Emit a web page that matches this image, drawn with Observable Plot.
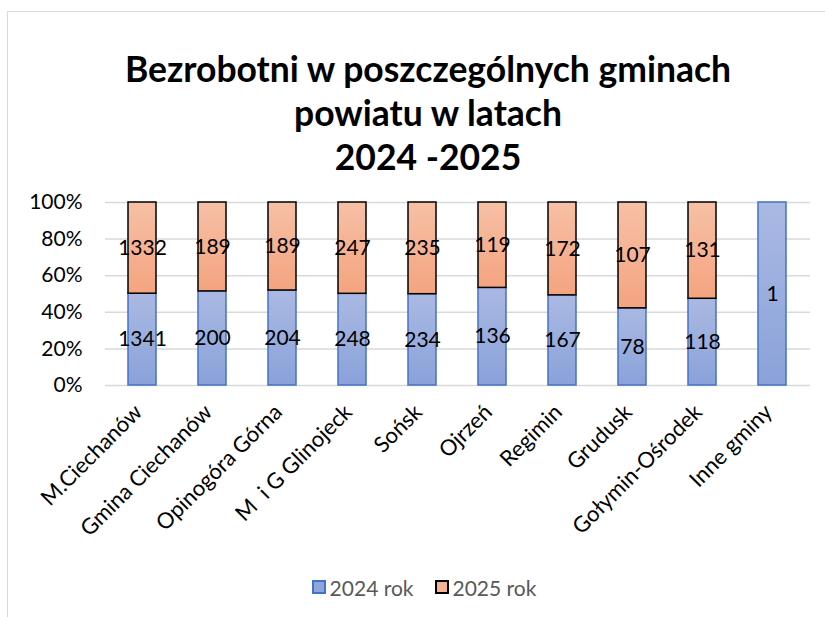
<!DOCTYPE html>
<html>
<head>
<meta charset="utf-8">
<script src="https://cdn.jsdelivr.net/npm/d3@7"></script>
<script src="https://cdn.jsdelivr.net/npm/@observablehq/plot@0.6"></script>
<style>
  html, body { margin: 0; padding: 0; background: #fff; }
  body { width: 825px; height: 617px; position: relative; overflow: hidden; font-family: Lato, "Open Sans", sans-serif; }
  #frame { position: absolute; left: 7px; top: 11px; width: 900px; height: 700px; border: 1px solid #d9d9d9; box-sizing: border-box; }
  #title { position: absolute; left: 0; top: 47px; width: 856px; text-align: center; font-weight: bold; font-size: 35.5px; line-height: 44px; color: #000; }
  #chart { position: absolute; left: 0; top: 185px; }
  #legend { position: absolute; left: 0; top: 573px; width: 848px; text-align: center; font-size: 21px; color: #595959; }
  .li { display: inline-flex; align-items: center; margin: 0 10.5px; }
  .sw { width: 14px; height: 14px; display: inline-block; margin-right: 4px; box-sizing: border-box; }
</style>
</head>
<body>
<div id="frame"></div>
<div id="title">Bezrobotni w poszczególnych gminach<br>powiatu w latach<br>2024 -2025</div>
<div id="chart"></div>
<div id="legend"></div>
<script>
const gminy = ["M.Ciechanów", "Gmina Ciechanów", "Opinogóra Górna", "M  i G Glinojeck", "Sońsk", "Ojrzeń", "Regimin", "Grudusk", "Gołymin-Ośrodek", "Inne gminy"];
const v2024 = [1341, 200, 204, 248, 234, 136, 167, 78, 118, 1];
const v2025 = [1332, 189, 189, 247, 235, 119, 172, 107, 131, 0];
const series = ["2024 rok", "2025 rok"];
const yTicks = [0, 0.2, 0.4, 0.6, 0.8, 1];

const rows = [];
gminy.forEach((g, i) => {
  if (v2024[i] > 0) rows.push({gmina: g, year: series[0], value: v2024[i]});
  if (v2025[i] > 0) rows.push({gmina: g, year: series[1], value: v2025[i]});
});

const stackOpts = {x: "gmina", y: "value", z: "year", offset: "normalize", order: series};

function defs() {
  const ns = "http://www.w3.org/2000/svg";
  const d = document.createElementNS(ns, "defs");
  const mk = (id, c1, c2) => {
    const g = document.createElementNS(ns, "linearGradient");
    g.setAttribute("id", id);
    g.setAttribute("x1", "0"); g.setAttribute("y1", "0");
    g.setAttribute("x2", "0"); g.setAttribute("y2", "1");
    [[0, c1], [1, c2]].forEach(([o, c]) => {
      const s = document.createElementNS(ns, "stop");
      s.setAttribute("offset", o);
      s.setAttribute("stop-color", c);
      g.appendChild(s);
    });
    d.appendChild(g);
  };
  mk("gBlue", "#aab9e2", "#8aa2da");
  mk("gOrange", "#f7c0a6", "#f4a47f");
  return d;
}

const chart = Plot.plot({
  width: 825,
  height: 380,
  marginTop: 17,
  marginBottom: 180,
  marginLeft: 105,
  marginRight: 15,
  style: {fontFamily: "Lato, 'Open Sans', sans-serif", fontSize: "21px", color: "#000", background: "transparent"},
  x: {domain: gminy, paddingInner: 0.595, paddingOuter: 0.2975, label: null},
  y: {domain: [0, 1], label: null},
  marks: [
    defs,
    Plot.ruleY(yTicks, {stroke: "#d9d9d9", strokeWidth: 1.5}),
    Plot.axisY({ticks: yTicks, tickFormat: d => Math.round(d * 100) + "%", tickSize: 0, tickPadding: 23, label: null, fontSize: 21}),
    Plot.axisX({tickSize: 0, tickRotate: -45, tickPadding: 8, dx: -4, dy: 15, label: null, fontSize: 22}),
    Plot.barY(rows, Plot.filter(d => d.year === series[0], Plot.stackY({...stackOpts, fill: "url(#gBlue)", stroke: "#4472c4", strokeWidth: 1.5}))),
    Plot.barY(rows, Plot.filter(d => d.year === series[1], Plot.stackY({...stackOpts, fill: "url(#gOrange)", stroke: "#000", strokeWidth: 1.5}))),
    Plot.text(rows, Plot.stackY({...stackOpts, text: d => String(d.value), fill: "#000", fontSize: 21}))
  ]
});
document.getElementById("chart").appendChild(chart);

const legend = document.getElementById("legend");
[["#8ea5db", "#4472c4"], ["#f6b393", "#000"]].forEach(([f, s], i) => {
  const item = document.createElement("span");
  item.className = "li";
  const sw = document.createElement("span");
  sw.className = "sw";
  sw.style.background = f;
  sw.style.border = "2px solid " + s;
  item.appendChild(sw);
  item.appendChild(document.createTextNode(series[i]));
  legend.appendChild(item);
});
</script>
</body>
</html>
